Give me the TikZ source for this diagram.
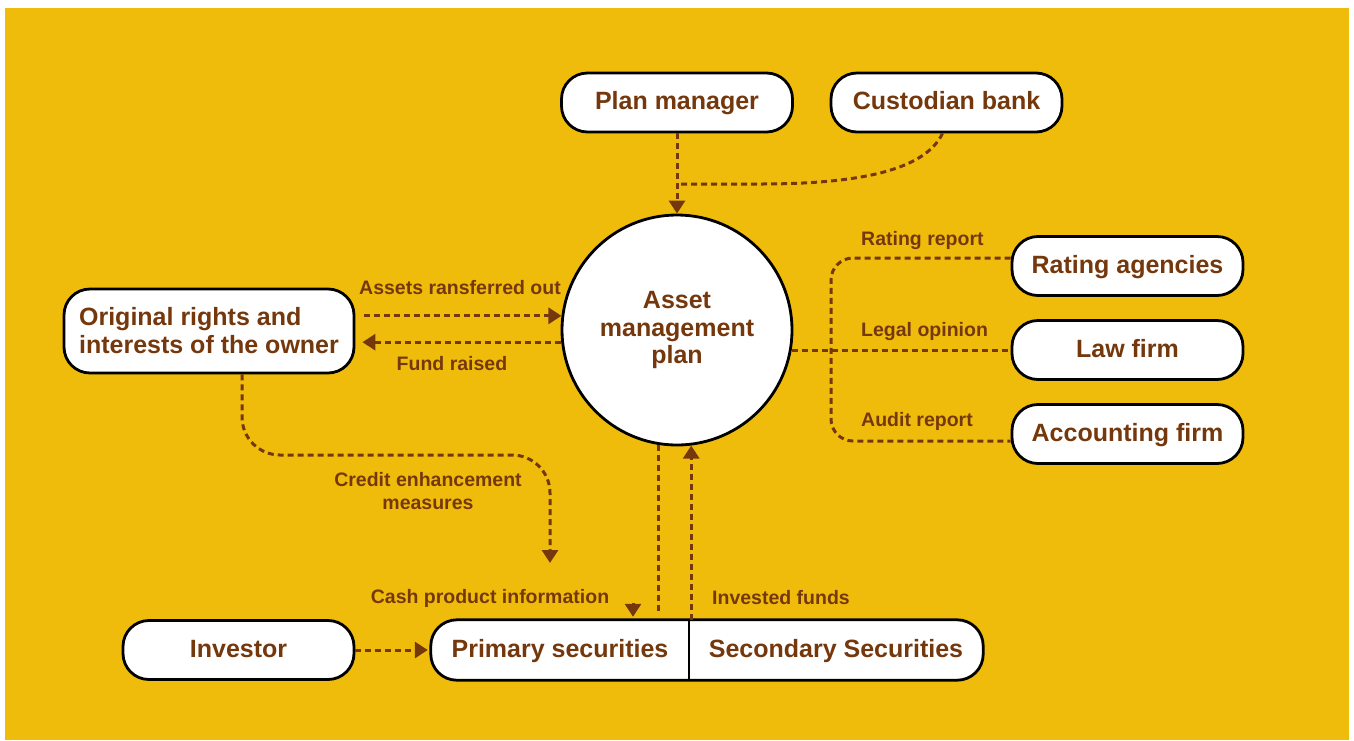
\documentclass[tikz,border=0pt]{standalone}
\usepackage{fontspec}
\setmainfont{Liberation Sans}
\usetikzlibrary{arrows.meta,calc,backgrounds}
\definecolor{bgy}{RGB}{240,188,12}
\definecolor{brn}{RGB}{117,56,12}
\begin{document}
\begin{tikzpicture}[x=1pt,y=-1pt,
  box/.style={draw=black, line width=2.8pt, fill=white, rounded corners=26pt, minimum width=231pt, minimum height=59pt, inner sep=0pt, text height=20pt, text depth=6pt, font=\fontsize{25}{28}\selectfont\bfseries, text=brn},
  plain/.style={inner sep=0pt, minimum height=60pt, text height=20pt, text depth=6pt, font=\fontsize{25}{28}\selectfont\bfseries, text=brn},
  lbl/.style={font=\fontsize{19.5}{23}\selectfont\bfseries, text=brn, inner sep=0pt},
  conn/.style={draw=brn, line width=3pt, dash pattern=on 6pt off 4pt},
  tip/.style={-{Triangle[width=16pt,length=13pt]}},
]
\useasboundingbox (0,0) rectangle (1354,740);
\begin{scope}[on background layer]
\fill[white] (0,0) rectangle (1354,740);
\fill[bgy] (5,8) rectangle (1349,740);
\end{scope}

% nodes
\node[box] (pm) at (677,102.5) {Plan manager};
\node[box] (cb) at (946.5,102.5) {Custodian bank};
\node[circle, draw=black, line width=2.8pt, fill=white, minimum size=230pt, inner sep=0pt, align=center, font=\fontsize{25}{27.5}\selectfont\bfseries, text=brn] (circ) at (677,330) {Asset\\management\\plan};
\node[box, minimum width=290pt, minimum height=84pt, align=left, text height=, text depth=] (orig) at (209,331) {Original rights and\\interests of the owner};
\node[box] (rating) at (1127.5,266) {Rating agencies};
\node[box] (law) at (1127.5,350) {Law firm};
\node[box] (acc) at (1127.5,434) {Accounting firm};
\node[box] (inv) at (238.5,650) {Investor};
\node[plain, minimum width=258pt] (prim) at (560,650) {Primary securities};
\node[plain, minimum width=294pt] (sec) at (836,650) {Secondary Securities};
\begin{scope}[on background layer]
\draw[line width=2.8pt, fill=white, rounded corners=26pt] (sec.north west) -- (sec.north east) -- (sec.south east) -- (prim.south west) -- (prim.north west) -- cycle;
\end{scope}
\draw[line width=2.4pt] (prim.north east) -- (prim.south east);

% labels
\node[lbl] (lassets) at (460,288) {Assets ransferred out};
\node[lbl] (lfund) at (452,364) {Fund raised};
\node[lbl, align=center] (lcredit) at (428,491) {Credit enhancement\\measures};
\node[lbl] (lcash) at (490,598) {Cash product information};
\node[lbl] (linv) at (781,598) {Invested funds};
\node[lbl, anchor=west] (lrate) at (861,240) {Rating report};
\node[lbl, anchor=west] (llegal) at (861,331) {Legal opinion};
\node[lbl, anchor=west] (laudit) at (861,421) {Audit report};

% connectors
\coordinate (join) at (677,184);
\draw[conn, tip] (pm.south) -- (circ.north);
\draw[conn] ($(cb.south)+(-4,0)$) .. controls (925,170) and (860,184) .. (760,184) -- (join);

\draw[conn, tip] ($(orig.east |- circ.173)+(9,0)$) -- (circ.173);
\draw[conn, tip] (circ.186) -- ($(orig.east |- circ.186)+(7,0)$);

\coordinate (ceend) at (550,563);
\draw[conn, tip, rounded corners=38pt] ($(orig.south)+(33,0)$) -- (242,455) -- (550,455) -- (ceend);

\coordinate (cashtop) at (633,603);
\draw[conn, tip, shorten >=3pt] (cashtop) -- (cashtop |- prim.north);
\draw[conn, shorten >=7pt] (circ.-99) -- (circ.-99 |- prim.north);
\draw[conn, tip] (circ.-83.5 |- sec.north) -- (circ.-83.5);
\draw[conn, tip, shorten >=3pt] (inv.east) -- (prim.west);

\draw[conn] (circ.-10) -- (circ.-10 -| law.west);
\draw[conn, rounded corners=22pt] ($(rating.west)+(0,-8)$) -- (831,258) -- (831,441) -- ($(acc.west)+(0,7)$);
\end{tikzpicture}
\end{document}
